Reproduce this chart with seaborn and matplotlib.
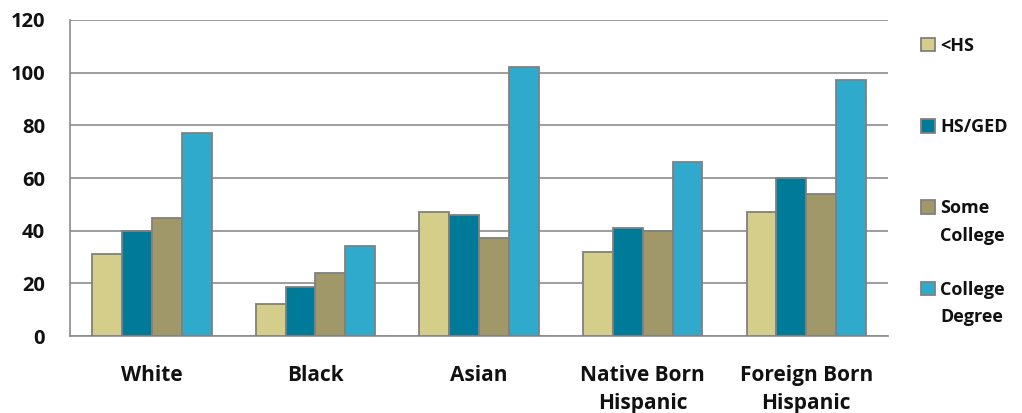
import matplotlib
matplotlib.use("Agg")
import matplotlib.pyplot as plt
import seaborn as sns
import pandas as pd

groups = ["White", "Black", "Asian", "Native Born\nHispanic", "Foreign Born\nHispanic"]
levels = ["<HS", "HS/GED", "Some\nCollege", "College\nDegree"]
lt_hs = [31.2, 12.0, 47.2, 31.8, 47.2]
hs_ged = [40.0, 18.5, 46.0, 41.1, 59.9]
some_college = [44.8, 24.0, 37.1, 39.9, 53.9]
college_degree = [77.0, 34.0, 102.0, 66.0, 97.2]
colors = ["#D5CD8A", "#007A99", "#A09868", "#30AACC"]

def build_frame():
    rows = []
    for lvl, vals in zip(levels, [lt_hs, hs_ged, some_college, college_degree]):
        for g, v in zip(groups, vals):
            rows.append({"group": g, "level": lvl, "value": v})
    return pd.DataFrame(rows)

def make_plot(df):
    sns.set_style("white")
    plt.rcParams["font.family"] = ["Open Sans", "DejaVu Sans"]
    plt.rcParams["font.weight"] = "bold"
    fig = plt.figure(figsize=(10.22, 4.13), dpi=100)
    ax = fig.add_axes([0.0685, 0.1864, 0.8005, 0.7652])
    sns.barplot(data=df, x="group", y="value", hue="level", palette=colors,
                saturation=1, edgecolor="#808080", linewidth=1.3, width=0.73,
                ax=ax, zorder=3)
    ax.set_ylim(0, 120)
    ax.set_yticks(range(0, 121, 20))
    ax.set_xlim(-0.5, 4.5)
    ax.yaxis.grid(True, color="#8c8c8c", linewidth=1.2, zorder=0)
    ax.set_axisbelow(True)
    for side in ["top", "right"]:
        ax.spines[side].set_visible(False)
    for side in ["left", "bottom"]:
        ax.spines[side].set_color("#8c8c8c")
        ax.spines[side].set_linewidth(1.2)
    ax.set_xlabel("")
    ax.set_ylabel("")
    ax.tick_params(axis="y", length=0, pad=18, labelsize=14.5, labelcolor="#111111")
    ax.tick_params(axis="x", length=0, pad=21, labelsize=15, labelcolor="#111111")
    for t in ax.get_xticklabels():
        t.set_linespacing(1.45)
        t.set_verticalalignment("top")

    # legend: first line of each label sits next to the swatch, second line goes below it
    handles, labels = ax.get_legend_handles_labels()
    ax.get_legend().remove()
    first = [lab.split("\n")[0] for lab in labels]
    second = [lab.split("\n")[1] if "\n" in lab else "" for lab in labels]
    leg = fig.legend(handles, first, loc="upper left", bbox_to_anchor=(0.889, 0.941),
                     frameon=False, handlelength=0.75, handleheight=0.75, handletextpad=0.3,
                     borderpad=0.2, labelspacing=3.5, prop={"weight": "bold", "size": 13})
    fig.canvas.draw()
    inv = fig.transFigure.inverted()
    for txt, extra in zip(leg.get_texts(), second):
        if not extra:
            continue
        bb = txt.get_window_extent()
        x0, y0 = inv.transform((bb.x0, bb.y0 - 27.5))
        fig.text(x0, y0, extra, fontsize=13, fontweight="bold", color="#111111",
                 ha="left", va="bottom")
    for txt in leg.get_texts():
        txt.set_color("#111111")
    fig.savefig("out.png", dpi=100)

def main():
    df = build_frame()
    make_plot(df)

if __name__ == "__main__":
    main()
